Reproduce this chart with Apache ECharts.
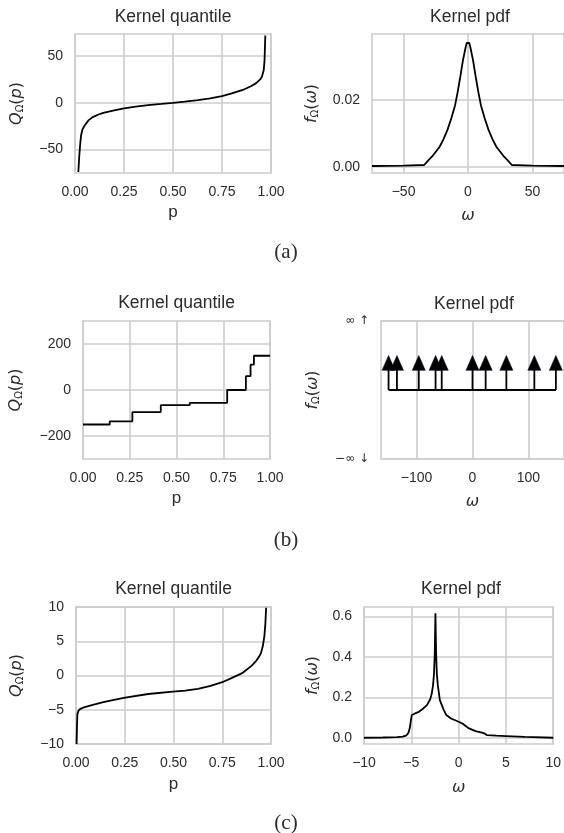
<!DOCTYPE html>
<html>
<head>
<meta charset="utf-8">
<title>Kernel quantile / pdf</title>
<script src="https://cdn.jsdelivr.net/npm/echarts@6/dist/echarts.min.js"></script>
<style>
	html, body { margin: 0; padding: 0; background: #fff; }
	#main { width: 564px; height: 833px; }
</style>
</head>
<body>
<div id="main"></div>
<script type="text/javascript">
	// (a) kernel quantile
	var quantA_p = [0.017, 0.022, 0.027, 0.031, 0.037, 0.05, 0.07, 0.093, 0.12, 0.144, 0.2, 0.25, 0.31, 0.373, 0.44, 0.5, 0.56, 0.627, 0.69, 0.75, 0.8, 0.856, 0.9, 0.924, 0.945, 0.954, 0.963, 0.967, 0.971];
	var quantA_q = [-74, -56, -43, -35, -29, -24, -18.5, -15, -12.5, -10.8, -8.2, -6, -4.2, -2.5, -1.2, 0, 1.3, 2.9, 4.8, 7.2, 10, 13.7, 18, 21, 25, 28, 35, 45, 72];
	// (a) kernel pdf
	var pdfA_w = [-74.5, -50, -34, -31, -28, -25, -22, -19, -16, -13, -10, -8, -6, -4, -2, -1, 0, 1, 2, 4, 6, 8, 10, 13, 16, 19, 22, 25, 28, 31, 34, 50, 74.5];
	var pdfA_f = [0.0002, 0.0003, 0.0005, 0.0018, 0.003, 0.0045, 0.006, 0.0083, 0.011, 0.0145, 0.0185, 0.0225, 0.027, 0.0318, 0.0356, 0.0372, 0.0378, 0.0372, 0.0356, 0.0318, 0.027, 0.0225, 0.0185, 0.0145, 0.011, 0.0083, 0.006, 0.0045, 0.003, 0.0018, 0.0005, 0.0003, 0.0002];
	// (b) kernel quantile (step function)
	var quantB_p = [0, 0.143, 0.264, 0.416, 0.571, 0.771, 0.871, 0.896, 0.914, 1.0];
	var quantB_q = [-150, -136, -96, -66, -56, 0, 60, 110, 149, 149];
	// (b) kernel pdf: dirac locations
	var diracB_w = [-150, -135, -96, -66, -55, 0, 23.5, 60.5, 110.5, 149];
	var diracBase = 0.5, diracNeck = 0.65, diracTip = 0.75;
	// (c) kernel quantile
	var quantC_p = [0.003, 0.005, 0.007, 0.012, 0.02, 0.04, 0.072, 0.14, 0.245, 0.37, 0.497, 0.56, 0.625, 0.69, 0.75, 0.8, 0.855, 0.9, 0.923, 0.94, 0.949, 0.958, 0.966, 0.971, 0.975];
	var quantC_q = [-10, -7.5, -5.7, -5.2, -4.9, -4.65, -4.4, -3.9, -3.27, -2.7, -2.34, -2.2, -1.95, -1.5, -0.98, -0.35, 0.39, 1.4, 2.1, 2.8, 3.3, 4.3, 5.75, 7.5, 9.9];
	// (c) kernel pdf
	var pdfC_w = [-10, -8, -6.5, -5.9, -5.5, -5.3, -5.15, -5.05, -4.95, -4.6, -4.2, -3.8, -3.35, -3.0, -2.84, -2.7, -2.6, -2.52, -2.45, -2.38, -2.3, -2.2, -1.98, -1.6, -1.3, -0.8, -0.3, 0, 0.4, 1.1, 1.8, 2.46, 2.7, 2.97, 4, 5, 7, 10];
	var pdfC_f = [0.0, 0.001, 0.003, 0.005, 0.012, 0.025, 0.05, 0.085, 0.112, 0.12, 0.128, 0.142, 0.161, 0.19, 0.218, 0.26, 0.317, 0.42, 0.615, 0.42, 0.317, 0.26, 0.186, 0.14, 0.112, 0.095, 0.085, 0.079, 0.07, 0.046, 0.033, 0.025, 0.022, 0.013, 0.01, 0.008, 0.004, 0.0];

	// tick positions
	var ticksP = [0, 0.25, 0.5, 0.75, 1];
	var ticksA_q = [-50, 0, 50];
	var ticksA_w = [-50, 0, 50];
	var ticksA_f = [0, 0.02];
	var ticksB_q = [-200, 0, 200];
	var ticksB_w = [-100, 0, 100];
	var ticksB_f = [0, 1];
	var labelsB_f = ['\u2212\u221e \u2193', '\u221e \u2191'];
	var ticksC_q = [-10, -5, 0, 5, 10];
	var ticksC_w = [-10, -5, 0, 5, 10];
	var ticksC_f = [0, 0.2, 0.4, 0.6];

	var textColor = '#2b2b2b';
	var gridColor = '#cccccc';
	var sans = 'Liberation Sans, Arial, sans-serif';
	var mathFont = 'DejaVu Sans';

	function zip(xs, ys){
		var arr = [];
		for(var i = 0; i < xs.length; i++){
			arr.push([xs[i], ys[i]]);
		}
		return arr;
	}

	function minus(s){
		return String(s).replace('-', '\u2212');
	}
	function fixed(n){
		return function(v){ return minus(v.toFixed(n)); };
	}

	var nameRich = {
		it: {fontFamily: mathFont, fontStyle: 'italic', fontSize: 16, color: textColor, lineHeight: 22, verticalAlign: 'bottom'},
		up: {fontFamily: mathFont, fontSize: 16, color: textColor, lineHeight: 22, verticalAlign: 'bottom'},
		sub: {fontFamily: mathFont, fontSize: 10, color: textColor, lineHeight: 12, verticalAlign: 'bottom'}
	};

	function axis(gi, min, max, ticks, fmt, extra){
		var a = {
			type: 'value', gridIndex: gi, min: min, max: max,
			axisLine: {show: false},
			axisTick: {show: false, customValues: ticks},
			axisLabel: {customValues: ticks, formatter: fmt, color: textColor,
				fontFamily: sans, fontSize: 14, margin: 12},
			splitLine: {show: true, lineStyle: {color: gridColor, width: 1.6}},
			nameLocation: 'middle',
			nameTextStyle: {color: textColor, fontFamily: sans, fontSize: 17, rich: nameRich}
		};
		for(var k in extra){ a[k] = extra[k]; }
		return a;
	}

	var grids = [
		{left: 75, top: 34, width: 196, height: 139},
		{left: 372, top: 34, width: 196, height: 139},
		{left: 83, top: 321, width: 187, height: 138},
		{left: 381, top: 321, width: 186, height: 138},
		{left: 76, top: 607, width: 195, height: 137},
		{left: 364, top: 607, width: 194, height: 137}
	];
	grids.forEach(function(g){
		g.show = true;
		g.borderColor = gridColor;
		g.borderWidth = 1.6;
		g.backgroundColor = 'transparent';
	});

	var qName = '{it|Q}{sub|\u03a9}{up|(}{it|p}{up|)}';
	var fName = '{it|f}{sub|\u03a9}{up|(}{it|\u03c9}{up|)}';
	var wName = '{it|\u03c9}';

	var xAxes = [
		axis(0, 0, 1, ticksP, fixed(2), {name: 'p', nameGap: 31}),
		axis(1, -74.5, 74.5, ticksA_w, fixed(0), {name: wName, nameGap: 29}),
		axis(2, 0, 1, ticksP, fixed(2), {name: 'p', nameGap: 31}),
		axis(3, -163.5, 163.5, ticksB_w, fixed(0), {name: wName, nameGap: 29}),
		axis(4, 0, 1, ticksP, fixed(2), {name: 'p', nameGap: 32}),
		axis(5, -10, 10, ticksC_w, fixed(0), {name: wName, nameGap: 30})
	];
	var yAxes = [
		axis(0, -75, 73.5, ticksA_q, fixed(0), {name: qName, nameGap: 50}),
		axis(1, -0.0019, 0.0399, ticksA_f, fixed(2), {name: fName, nameGap: 52}),
		axis(2, -300, 300, ticksB_q, fixed(0), {name: qName, nameGap: 59}),
		axis(3, 0, 1, ticksB_f, function(v){ return labelsB_f[ticksB_f.indexOf(v)]; }, {name: fName, nameGap: 60}),
		axis(4, -10, 10, ticksC_q, fixed(0), {name: qName, nameGap: 51}),
		axis(5, -0.031, 0.646, ticksC_f, fixed(1), {name: fName, nameGap: 43})
	];
	yAxes[3].axisLabel.fontFamily = mathFont;
	yAxes[3].axisLabel.fontSize = 12;

	function curve(i, data, extra){
		var s = {
			type: 'line', xAxisIndex: i, yAxisIndex: i, data: data,
			showSymbol: false, symbol: 'none',
			lineStyle: {color: '#000', width: 1.8},
			itemStyle: {color: '#000'}
		};
		for(var k in extra){ s[k] = extra[k]; }
		return s;
	}

	var diracMin = Math.min.apply(null, diracB_w);
	var diracMax = Math.max.apply(null, diracB_w);

	var series = [
		curve(0, zip(quantA_p, quantA_q)),
		curve(1, zip(pdfA_w, pdfA_f)),
		curve(2, zip(quantB_p, quantB_q), {step: 'end'}),
		curve(3, [[diracMin, diracBase], [diracMax, diracBase]]),
		{
			type: 'custom', xAxisIndex: 3, yAxisIndex: 3,
			data: diracB_w.map(function(w){ return [w, diracBase]; }),
			encode: {x: 0, y: 1},
			renderItem: function(params, api){
				var w = api.value(0);
				var base = api.coord([w, diracBase]);
				var neck = api.coord([w, diracNeck]);
				var tip = api.coord([w, diracTip]);
				return {
					type: 'group',
					children: [
						{type: 'line', shape: {x1: base[0], y1: base[1], x2: neck[0], y2: neck[1]},
							style: {stroke: '#000', lineWidth: 1.8}},
						{type: 'polygon', shape: {points: [tip, [neck[0] - 6.5, neck[1] + 1], [neck[0] + 6.5, neck[1] + 1]]},
							style: {fill: '#000', stroke: '#0a0f2a', lineWidth: 0.6}}
					]
				};
			}
		},
		curve(4, zip(quantC_p, quantC_q)),
		curve(5, zip(pdfC_w, pdfC_f))
	];

	function label(text, x, y, size, family){
		return {
			type: 'text', x: x, y: y, silent: true,
			style: {text: text, fill: textColor, font: size + 'px ' + family,
				textAlign: 'center', textVerticalAlign: 'middle'}
		};
	}

	var graphics = [
		label('Kernel quantile', 173, 17, 17.5, sans),
		label('Kernel pdf', 470, 17, 17.5, sans),
		label('Kernel quantile', 176.5, 303, 17.5, sans),
		label('Kernel pdf', 474, 304, 17.5, sans),
		label('Kernel quantile', 173.5, 589, 17.5, sans),
		label('Kernel pdf', 461, 589, 17.5, sans),
		label('(a)', 286, 252, 21, 'Liberation Serif, serif'),
		label('(b)', 286, 540, 21, 'Liberation Serif, serif'),
		label('(c)', 286, 823, 21, 'Liberation Serif, serif')
	];

	var myChart = echarts.init(document.getElementById('main'), null, {renderer: 'canvas'});
	myChart.setOption({
		animation: false,
		backgroundColor: '#fff',
		grid: grids,
		xAxis: xAxes,
		yAxis: yAxes,
		series: series,
		graphic: graphics
	});
</script>
</body>
</html>
